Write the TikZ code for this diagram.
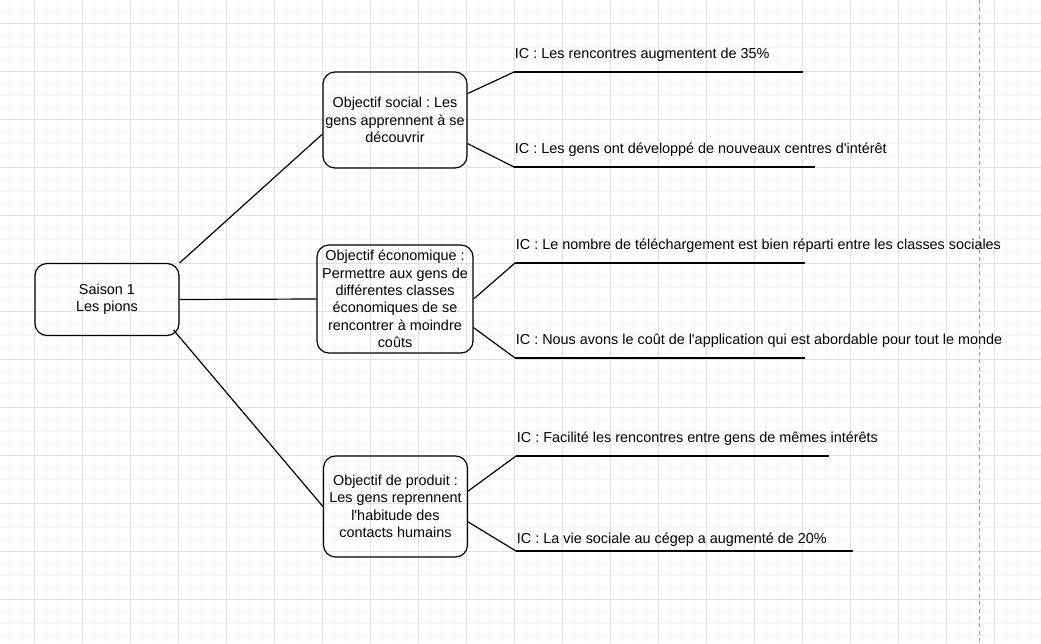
\documentclass[tikz,border=0pt]{standalone}
\usepackage{fontspec}
\setmainfont{Liberation Sans}
\usetikzlibrary{positioning}
\newcommand\boxfont{\fontsize{10.8}{13}\selectfont}
\frenchspacing

\begin{document}
\begin{tikzpicture}[x=0.75pt,y=-0.75pt,
  objbox/.style={draw,line width=0.9pt,rounded corners=9pt,align=center,font=\boxfont,inner sep=1pt},
  icnode/.style={anchor=south west,font=\boxfont,inner xsep=0.5pt,inner ysep=7.1pt,text height=8pt,text depth=2.5pt},
  link/.style={line width=0.9pt},
  minorgrid/.style={draw=black!4,line width=0.75pt},
  majorgrid/.style={draw=black!12,line width=0.75pt}]
\useasboundingbox (0,0) rectangle (1041,643);
\clip (0,0) rectangle (1041,643);
\fill[white] (0,0) rectangle (1041,643);
% grid
\foreach \gx in {10.3,22.3,...,1041}{
\draw[minorgrid] (\gx,0)--(\gx,643);
}
\foreach \gy in {11.3,23.3,...,643}{
\draw[minorgrid] (0,\gy)--(1041,\gy);
}
\foreach \gx in {34.3,82.3,...,1041}{
\draw[majorgrid] (\gx,0)--(\gx,643);
}
\foreach \gy in {23.3,71.3,...,643}{
\draw[majorgrid] (0,\gy)--(1041,\gy);
}
\draw[black!40,line width=0.75pt,dash pattern=on 3pt off 2.5pt] (979.3,0)--(979.3,643);

% boxes
\node[objbox,minimum width=108pt,minimum height=54pt] (saison) at (107,299.5) {Saison 1\\Les pions};
\node[objbox,minimum width=108pt,minimum height=72pt] (social) at (395,120) {Objectif social : Les\\gens apprennent à se\\découvrir};
\node[objbox,minimum width=117pt,minimum height=81pt] (eco) at (395,299) {Objectif économique :\\Permettre aux gens de\\différentes classes\\économiques de se\\rencontrer à moindre\\coûts};
\node[objbox,minimum width=108pt,minimum height=75.75pt] (product) at (395.5,506.5) {Objectif de produit :\\Les gens reprennent\\l\textquotesingle habitude des\\contacts humains};

% indicateurs
\node[icnode] (ic1) at (514,72) {IC : Les rencontres augmentent de 35\%};
\node[icnode] (ic2) at (514,167) {IC : Les gens ont développé de nouveaux centres d\textquotesingle intérêt};
\node[icnode] (ic3) at (515,263) {IC : Le nombre de téléchargement est bien réparti entre les classes sociales};
\node[icnode] (ic4) at (515,358) {IC : Nous avons le coût de l\textquotesingle application qui est abordable pour tout le monde};
\node[icnode] (ic5) at (516,456) {IC : Facilité les rencontres entre gens de mêmes intérêts};
\node[icnode,inner ysep=2.6pt] (ic6) at (516,551) {IC : La vie sociale au cégep a augmenté de 20\%};

\draw[link] (ic1.south west)--++(289,0);
\draw[link] (ic2.south west)--++(301,0);
\draw[link] (ic3.south west)--++(290,0);
\draw[link] (ic4.south west)--++(290,0);
\draw[link] (ic5.south west)--++(313,0);
\draw[link] (ic6.south west)--++(337,0);

% connectors
\draw[link] (saison.north east)--(social.191);
\draw[link] (saison.east)--(eco.west);
\draw[link] ([shift={(-6,-6)}]saison.south east)--(product.west);
\draw[link] (social.20)--(ic1.south west);
\draw[link] (social.-18)--(ic2.south west);
\draw[link] (eco.east)--(ic3.south west);
\draw[link] (eco.-20)--(ic4.south west);
\draw[link] (product.12)--(ic5.south west);
\draw[link] (product.-12)--(ic6.south west);
\end{tikzpicture}
\end{document}
